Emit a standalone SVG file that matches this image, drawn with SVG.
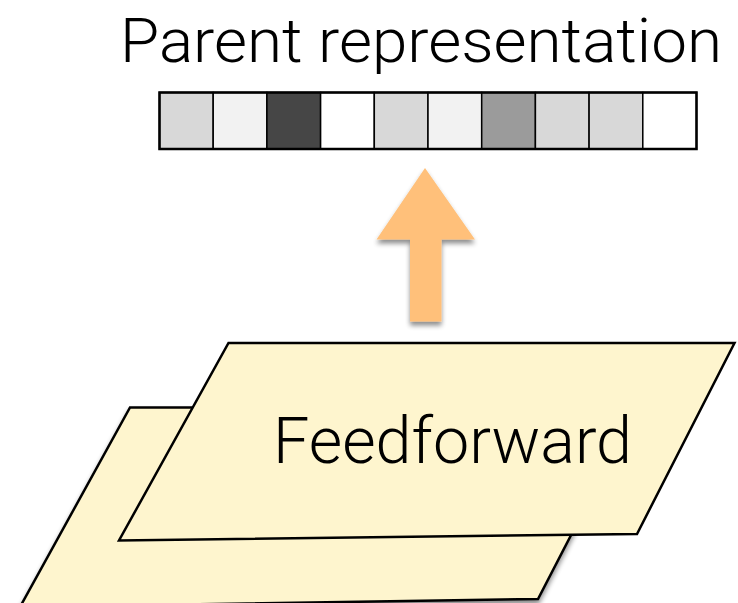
<svg xmlns="http://www.w3.org/2000/svg" width="738" height="603" viewBox="0 0 738 603">
  <defs>
    <style>
      .label { font-family: "Roboto", "Liberation Sans", sans-serif; font-weight: 300; fill: #000; }
      .cell { stroke: #000; stroke-width: 1.5; }
      .layer { fill: #FEF5CE; stroke: #000; stroke-width: 2.5; stroke-linejoin: miter; }
    </style>
    <filter id="shadow" x="-30%" y="-20%" width="160%" height="150%">
      <feGaussianBlur in="SourceAlpha" stdDeviation="2.5"/>
      <feOffset dx="0" dy="4" result="b"/>
      <feComponentTransfer><feFuncA type="linear" slope="0.45"/></feComponentTransfer>
      <feMerge><feMergeNode/><feMergeNode in="SourceGraphic"/></feMerge>
    </filter>
  </defs>

  <rect width="738" height="603" fill="#fff"/>

  <!-- output vector -->
  <g id="parent-representation">
    <text class="label" x="120" y="62" font-size="62" textLength="602" lengthAdjust="spacingAndGlyphs">Parent representation</text>
    <g id="vector-cells">
      <rect class="cell" x="159.5" y="92.5" width="53.7" height="56.5" fill="#D8D8D8"/>
      <rect class="cell" x="213.2" y="92.5" width="53.7" height="56.5" fill="#F2F2F2"/>
      <rect class="cell" x="266.9" y="92.5" width="53.7" height="56.5" fill="#464646"/>
      <rect class="cell" x="320.6" y="92.5" width="53.7" height="56.5" fill="#FFFFFF"/>
      <rect class="cell" x="374.3" y="92.5" width="53.7" height="56.5" fill="#D8D8D8"/>
      <rect class="cell" x="428.0" y="92.5" width="53.7" height="56.5" fill="#F2F2F2"/>
      <rect class="cell" x="481.7" y="92.5" width="53.7" height="56.5" fill="#9B9B9B"/>
      <rect class="cell" x="535.4" y="92.5" width="53.7" height="56.5" fill="#D8D8D8"/>
      <rect class="cell" x="589.1" y="92.5" width="53.7" height="56.5" fill="#D8D8D8"/>
      <rect class="cell" x="642.8" y="92.5" width="53.7" height="56.5" fill="#FFFFFF"/>
      <rect x="159.5" y="92.5" width="537" height="56.5" fill="none" stroke="#000" stroke-width="2.5"/>
    </g>
  </g>

  <!-- connector -->
  <g id="connectors">
    <polygon points="425,168 475,239.5 441.5,239.5 441.5,321.5 410,321.5 410,239.5 376.5,239.5" fill="#FFC07A" filter="url(#shadow)"/>
  </g>

  <!-- stacked feedforward layers -->
  <g id="feedforward-back">
    <polygon class="layer" points="130,407.5 637,407.5 538,599 20,607" filter="url(#shadow)"/>
  </g>
  <g id="feedforward-front">
    <polygon class="layer" points="228.5,343 734.5,343 637,534 119,540.5"/>
    <text class="label" x="273" y="463" font-size="64" textLength="359" lengthAdjust="spacingAndGlyphs">Feedforward</text>
  </g>
</svg>
